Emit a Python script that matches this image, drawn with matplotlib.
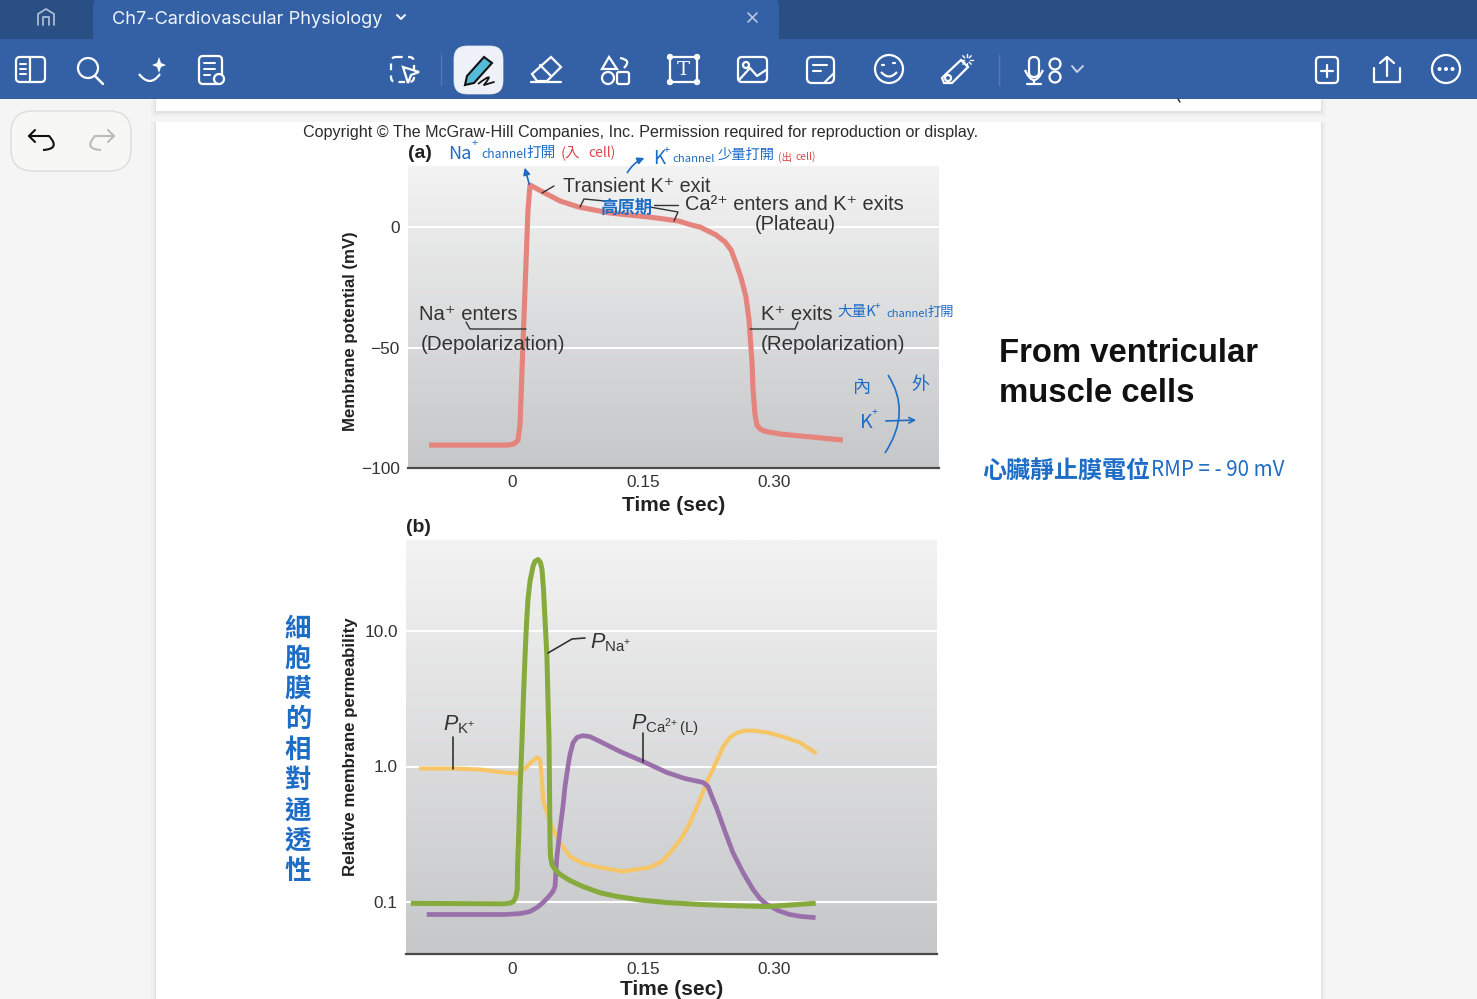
import matplotlib
matplotlib.use("Agg")
import numpy as np
import matplotlib.pyplot as plt
from matplotlib.patches import Rectangle, FancyBboxPatch, Circle, Polygon, PathPatch
from matplotlib.path import Path

plt.rcParams['font.family'] = ['Liberation Sans', 'DejaVu Sans']
plt.rcParams['mathtext.fontset'] = 'custom'
plt.rcParams['mathtext.rm'] = 'Liberation Sans'
plt.rcParams['mathtext.it'] = 'Liberation Sans:italic'
plt.rcParams['mathtext.bf'] = 'Liberation Sans:bold'

# action potential, time (s) / membrane potential (mV)
ap_time = [-0.095, -0.0046, 0.0023, 0.0069, 0.0092, 0.0115, 0.0149, 0.0183, 0.0206, 0.0355, 0.055,
           0.0763, 0.1123, 0.158, 0.1908, 0.2039, 0.2153, 0.2337, 0.244, 0.2509, 0.2566, 0.2623,
           0.268, 0.2715, 0.275, 0.2761, 0.2784, 0.2806, 0.2841, 0.2887, 0.2932, 0.307, 0.33, 0.379]
ap_mv = [-90.5, -90.5, -90, -88.4, -82, -59.3, -26, 7, 17.4, 14.5, 10.8,
         8.3, 5.8, 4.1, 2.5, 1.0, 0, -3.3, -6.2, -9.5, -15, -21,
         -29, -38.6, -56.4, -67.6, -78, -82.2, -83.8, -84.6, -85, -85.9, -86.7, -88.4]

# relative permeabilities
na_time = [-0.113, -0.008, -0.001, 0.0023, 0.0046, 0.006, 0.0063, 0.0075, 0.0092, 0.0115, 0.0132, 0.0149,
           0.0166, 0.0183, 0.0206, 0.024, 0.0263, 0.0298, 0.0326, 0.0344, 0.0361, 0.0378, 0.040, 0.0412,
           0.0424, 0.043, 0.0435, 0.0441, 0.0458, 0.0493, 0.055, 0.0664, 0.0813, 0.1008, 0.120, 0.1466,
           0.1775, 0.2153, 0.253, 0.292, 0.345]
na_perm = [0.0977, 0.097, 0.0985, 0.102, 0.11, 0.124, 0.174, 0.289, 0.677, 1.58, 3.4, 6.48,
           11.2, 17.1, 23.2, 29.9, 32.6, 33.7, 32, 28.4, 20.2, 12.2, 6.48, 3.12,
           1.58, 0.677, 0.289, 0.217, 0.189, 0.174, 0.16, 0.144, 0.13, 0.117, 0.11, 0.1035,
           0.099, 0.0959, 0.094, 0.0925, 0.0976]
ca_time = [-0.095, -0.008, 0.0092, 0.0206, 0.0286, 0.0355, 0.0424, 0.047, 0.0493, 0.0504, 0.0515, 0.055,
           0.0584, 0.0607, 0.0641, 0.0664, 0.07, 0.0745, 0.0813, 0.0893, 0.1008, 0.1237, 0.15, 0.1775,
           0.198, 0.219, 0.2245, 0.229, 0.235, 0.244, 0.253, 0.2646, 0.276, 0.284, 0.292, 0.3047, 0.318,
           0.33, 0.345]
ca_perm = [0.0809, 0.0809, 0.0821, 0.085, 0.091, 0.099, 0.11, 0.12, 0.13, 0.174, 0.217, 0.343,
           0.507, 0.712, 1.0, 1.226, 1.50, 1.64, 1.69, 1.66, 1.53, 1.29, 1.09, 0.903,
           0.815, 0.762, 0.712, 0.6, 0.481, 0.331, 0.232, 0.165, 0.124, 0.106, 0.0959, 0.0866, 0.0809,
           0.0784, 0.0769]
k_time = [-0.104, -0.0676, -0.0367, -0.01, 0.0057, 0.0115, 0.0172, 0.0229, 0.0286, 0.032, 0.0338, 0.0355,
          0.0412, 0.047, 0.055, 0.0664, 0.0813, 0.1008, 0.127, 0.158, 0.173, 0.184, 0.1947, 0.204,
          0.213, 0.223, 0.2325, 0.242, 0.2497, 0.258, 0.267, 0.276, 0.2932, 0.31, 0.33, 0.347]
k_perm = [0.966, 0.966, 0.95, 0.903, 0.888, 0.934, 1.0, 1.09, 1.165, 1.13, 0.873, 0.571,
          0.428, 0.343, 0.275, 0.217, 0.192, 0.180, 0.168, 0.180, 0.202, 0.244, 0.299, 0.386,
          0.524, 0.762, 1.03, 1.405, 1.64, 1.78, 1.84, 1.84, 1.78, 1.66, 1.5, 1.27]

time_ticks = [0, 0.15, 0.30]
time_labels = ['0', '0.15', '0.30']
mv_ticks = [0, -50, -100]
mv_labels = ['0', '\u221250', '\u2212100']
perm_ticks = [0.1, 1, 10]
perm_labels = ['0.1', '1.0', '10.0']

W, H = 1477, 999
BLUE = '#1d6cc6'
RED = '#d8484c'
GREY = '#333333'
BAR = '#3461a5'
TOP = '#2a4f84'
CJK = ['Noto Sans CJK TC', 'DejaVu Sans']

fig = plt.figure(figsize=(W / 100, H / 100), dpi=100, facecolor='#f5f5f5')

# page, toolbar and gradients live on a pixel-sized layer under the charts
bg = fig.add_axes([0, 0, 1, 1], zorder=0)
bg.axis('off')

grad = np.linspace(0, 1, 256).reshape(-1, 1)
shade = matplotlib.colors.LinearSegmentedColormap.from_list('shade', ['#f3f3f3', '#c6c7c9'])


def shadow(x0, y0, x1, y1):
    for i, a in zip([5, 3, 1], [0.015, 0.025, 0.04]):
        bg.add_patch(Rectangle((x0 - i, y0), x1 - x0 + 2 * i, y1 - y0 + i, fc='black', ec='none', alpha=a))


shadow(156, 90, 1321, 112)
bg.add_patch(Rectangle((156, 90), 1165, 21, fc='white', ec='none'))
shadow(156, 122, 1321, 1010)
bg.add_patch(Rectangle((156, 122), 1165, 890, fc='white', ec='none'))
bg.imshow(grad, extent=[408, 939, 468, 166], aspect='auto', cmap=shade, zorder=1)
bg.imshow(grad, extent=[406, 937, 954, 540], aspect='auto', cmap=shade, zorder=1)
bg.add_patch(Rectangle((0, 0), W, 40, fc=TOP, ec='none', zorder=2))
bg.add_patch(Rectangle((0, 39), W, 60, fc=BAR, ec='none', zorder=2))
bg.add_patch(FancyBboxPatch((100, 0), 672, 40, boxstyle='round,pad=0,rounding_size=8', fc=BAR, ec=BAR, lw=10, zorder=2))
bg.add_patch(Rectangle((93, 20), 686, 20, fc=BAR, ec='none', zorder=2))
bg.set_xlim(0, W)
bg.set_ylim(H, 0)

# panel (a)
ax1 = fig.add_axes([408 / W, 1 - 468 / H, 531 / W, 302 / H], zorder=1, facecolor='none')
ax1.plot(ap_time, ap_mv, color='#e5847c', lw=3.7, solid_joinstyle='round', solid_capstyle='butt', zorder=3)
ax1.set_xlim((408 - 512) / 873, (939 - 512) / 873)
ax1.set_ylim(-100, (227 - 166) / 2.41)
ax1.set_yticks(mv_ticks)
ax1.set_yticklabels(mv_labels)
ax1.set_ylabel('Membrane potential (mV)', fontweight='bold', fontsize=12.1, color='#222222')
ax1.yaxis.set_label_coords((358 - 408) / 531, (468 - 331) / 302)

# panel (b)
ax2 = fig.add_axes([406 / W, 1 - 954 / H, 531 / W, 414 / H], zorder=1, facecolor='none')
ax2.plot(k_time, k_perm, color='#f6c566', lw=3, solid_joinstyle='round', zorder=3)
ax2.plot(ca_time, ca_perm, color='#9a70ab', lw=3.4, solid_joinstyle='round', zorder=4)
ax2.plot(na_time, na_perm, color='#86ab3c', lw=3.6, solid_joinstyle='round', zorder=5)
ax2.set_yscale('log')
ax2.set_xlim((406 - 512) / 873, (937 - 512) / 873)
ax2.set_ylim(10 ** (-1 - 52 / 135.5), 10 ** (1 + 91 / 135.5))
ax2.set_yticks(perm_ticks)
ax2.set_yticklabels(perm_labels)
ax2.minorticks_off()
ax2.set_ylabel('Relative membrane permeability', fontweight='bold', fontsize=12.2, color='#222222')
ax2.yaxis.set_label_coords((358 - 406) / 531, (954 - 747) / 414)

for ax, pad, label_y in [(ax1, 5, (468 - 496) / 302), (ax2, 5.5, (954 - 980) / 414)]:
    ax.set_xticks(time_ticks)
    ax.set_xticklabels(time_labels)
    ax.tick_params(length=0, labelsize=12.4, labelcolor=GREY)
    ax.tick_params(axis='x', pad=pad)
    ax.tick_params(axis='y', pad=6)
    ax.grid(axis='y', color='white', lw=1.5, zorder=2)
    ax.set_axisbelow(True)
    for s in ['top', 'left', 'right']:
        ax.spines[s].set_visible(False)
    ax.spines['bottom'].set_color('#4a4a4a')
    ax.spines['bottom'].set_linewidth(1.6)
    ax.set_xlabel('Time (sec)', fontweight='bold', fontsize=15, color='#222222')
    ax.xaxis.set_label_coords(0.5, label_y)

# top layer: labels, leaders, pen notes, toolbar icons
ov = fig.add_axes([0, 0, 1, 1], zorder=2, facecolor='none')
ov.axis('off')
ov.set_xlim(0, W)
ov.set_ylim(H, 0)


def txt(x, y, s, size=11, color=GREY, ha='left', va='center', **kw):
    return ov.text(x, y, s, fontsize=size, color=color, ha=ha, va=va, **kw)


def ln(xs, ys, color=GREY, lw=1.0, **kw):
    ov.plot(xs, ys, color=color, lw=lw, solid_capstyle='round', solid_joinstyle='round', **kw)


def box(x, y, w, h, r=4, fc='none', ec='white', lw=1.6, **kw):
    ov.add_patch(FancyBboxPatch((x, y), w, h, boxstyle=f'round,pad=0,rounding_size={r}', fc=fc, ec=ec, lw=lw, **kw))


def circ(x, y, r, fc='none', ec='white', lw=1.6):
    ov.add_patch(Circle((x, y), r, fc=fc, ec=ec, lw=lw))


def curve(p0, p1, p2, color='white', lw=1.6):
    ov.add_patch(PathPatch(Path([p0, p1, p2], [Path.MOVETO, Path.CURVE3, Path.CURVE3]), fc='none', ec=color, lw=lw))


txt(303, 132, 'Copyright \u00a9 The McGraw-Hill Companies, Inc. Permission required for reproduction or display.', size=11.6, color='#2a2a2a')
txt(408, 153, '(a)', size=14, weight='bold', color='#222222')
txt(406, 528, '(b)', size=14, weight='bold', color='#222222')

txt(563, 186, 'Transient K\u207a exit', size=14.2)
txt(685, 205, 'Ca\u00b2\u207a enters and K\u207a exits', size=14.4)
txt(795, 225, '(Plateau)', size=14.4, ha='center')
txt(419, 314, 'Na\u207a enters', size=14.6)
txt(421, 345, '(Depolarization)', size=14.8)
txt(761, 314, 'K\u207a exits', size=14.6)
txt(761, 345, '(Repolarization)', size=14.8)
ln([542, 554], [193, 186])
ln([580, 584, 605], [207, 199, 201])
ln([650, 678, 674], [207, 212, 221])
ln([654, 678], [205, 205])
ln([466, 470, 526], [322, 329, 329])
ln([750, 795, 798], [329, 329, 322])

txt(443, 725, r'$\mathit{P}_{\mathrm{K}^{+}}$', size=15.5)
txt(590, 643, r'$\mathit{P}_{\mathrm{Na}^{+}}$', size=15.5)
txt(631, 725, r'$\mathit{P}_{\mathrm{Ca}^{2\!+}\mathrm{(L)}}$', size=15.5)
ln([453, 453], [737, 769], lw=1.2)
ln([548, 572, 585], [653, 639, 638], lw=1.2)
ln([643, 643], [733, 762], lw=1.2)

txt(999, 354, 'From ventricular', size=23.7, weight='bold', color='#111111')
txt(999, 394, 'muscle cells', size=23.7, weight='bold', color='#111111')

# pen notes
txt(448, 154, 'Na', size=13, color=BLUE, family=CJK)
txt(472, 143, '+', size=8, color=BLUE, family=CJK)
txt(481, 155, 'channel', size=8.8, color=BLUE, family=CJK)
txt(526, 153, '打開', size=10.5, color=BLUE, family=CJK)
txt(561, 153, '(入', size=10.5, color=RED, family=CJK)
txt(588, 153, 'cell)', size=10, color=RED, family=CJK)
txt(653, 158, 'K', size=13.5, color=BLUE, family=CJK)
txt(664, 150, '+', size=8, color=BLUE, family=CJK)
txt(672, 159, 'channel', size=8.2, color=BLUE, family=CJK)
txt(718, 155, '少量打開', size=10.3, color=BLUE, family=CJK)
txt(778, 157, '(出', size=7.5, color=RED, family=CJK)
txt(796, 157, 'cell)', size=7.5, color=RED, family=CJK)
txt(626, 208, '高原期', size=12.5, color=BLUE, ha='center', weight='bold', family=CJK)
txt(837, 312, '大量K', size=10.5, color=BLUE, family=CJK)
txt(875, 306, '+', size=7, color=BLUE, family=CJK)
txt(886, 314, 'channel', size=8, color=BLUE, family=CJK)
txt(928, 312, '打開', size=9.5, color=BLUE, family=CJK)
txt(862, 388, '內', size=13, color=BLUE, ha='center', family=CJK)
txt(920, 385, '外', size=13, color=BLUE, ha='center', family=CJK)
txt(866, 423, 'K', size=14, color=BLUE, ha='center', family=CJK)
txt(875, 412, '+', size=8, color=BLUE, ha='center', family=CJK)
txt(982, 471, '心臟靜止膜電位', size=17.3, color=BLUE, weight='bold', family=CJK)
txt(1151, 470, 'RMP = - 90 mV', size=14.8, color=BLUE, family=CJK)
for i, ch in enumerate('細胞膜的相對通透性'):
    txt(298, 629 + i * 30.3, ch, size=19, color=BLUE, ha='center', weight='bold', family=CJK)

curve((888, 375), (912, 412), (885, 453), color=BLUE, lw=1.2)
ov.annotate('', xy=(919, 420), xytext=(883, 421), arrowprops=dict(arrowstyle='->', color=BLUE, lw=1.2))
ov.annotate('', xy=(524, 165), xytext=(530, 187), arrowprops=dict(arrowstyle='-|>', color=BLUE, lw=1.2))
ov.annotate('', xy=(647, 157), xytext=(626, 175),
            arrowprops=dict(arrowstyle='-|>', color=BLUE, lw=1.2, connectionstyle='arc3,rad=-0.2'))
ln([1178, 1180], [99, 102], color='#222222', lw=1)

# tab strip
ov.add_patch(Rectangle((0, 0), 93, 39, fc=TOP, ec='none'))
ln([38, 38, 46, 54, 54], [25, 14, 9, 14, 25], color='#a9bcd8', lw=1.3)
ln([43, 43, 49, 49], [25, 17, 17, 25], color='#a9bcd8', lw=1.3)
txt(112, 19, 'Ch7-Cardiovascular Physiology', size=13.1, color='#f1f4fa', family=['Inter', 'DejaVu Sans'])
ln([397, 401, 405], [15, 19, 15], color='white', lw=1.4)
ln([748, 757], [13, 22], color='#b9c8e0', lw=1.2)
ln([757, 748], [13, 22], color='#b9c8e0', lw=1.2)

# toolbar icons, left to right
box(16, 57, 29, 25, r=4)
ln([30, 30], [57, 82], color='white', lw=1.6)
for y in [64, 69, 74]:
    ln([20, 26], [y, y], color='white', lw=1.4)
circ(88, 68, 10)
ln([95, 103], [76, 84], color='white', lw=1.8)
curve((139, 74), (150, 88), (160, 74))
ov.add_patch(Polygon([(159, 57), (161, 63), (166, 65), (161, 67), (159, 73), (157, 67), (152, 65), (157, 63)], fc='white', ec='none'))
box(199, 56, 23, 28, r=4)
for y in [63, 69, 75]:
    ln([204, 215 if y < 75 else 210], [y, y], color='white', lw=1.4)
circ(219, 79, 5, fc=BAR)
box(391, 57, 23, 25, r=5, ls=(0, (3, 2.4)))
ov.add_patch(Polygon([(403, 67), (419, 72), (411, 75), (408, 83)], fc=BAR, ec='white', lw=1.6))
ln([441, 441], [55, 85], color='#5279b5', lw=1)
box(454, 46, 49, 48, r=13, fc='#eef1f7', ec='#eef1f7', lw=0.5)
ov.add_patch(Polygon([(484, 57), (492, 63), (474, 83), (465, 85), (467, 76)], fc='#55bcd8', ec='#111111', lw=1.5))
curve((478, 84), (496, 70), (484, 85), color='#111111', lw=1.3)
ln([484, 494], [85, 82], color='#111111', lw=1.3)
ov.add_patch(Polygon([(551, 57), (561, 67), (547, 81), (537, 81), (532, 74)], fc='none', ec='white', lw=1.6))
ln([540, 551], [65, 76], color='white', lw=1.6)
ln([531, 561], [82, 82], color='white', lw=1.6)
ov.add_patch(Polygon([(609, 57), (617, 69), (602, 69)], fc='none', ec='white', lw=1.6))
curve((620, 58), (632, 60), (624, 68))
circ(608, 78, 6)
box(617, 72, 12, 12, r=2)
ln([670, 697, 697, 670, 670], [57, 57, 82, 82, 57], color='white', lw=1.6)
for cx, cy in [(670, 57), (697, 57), (670, 82), (697, 82)]:
    circ(cx, cy, 2.2, fc=BAR, lw=1.4)
txt(683.5, 70, 'T', size=14, color='white', ha='center', family=['DejaVu Serif'])
box(738, 57, 29, 25, r=4)
circ(746, 65, 3)
ln([739, 750, 757, 766], [80, 68, 76, 70], color='white', lw=1.6)
box(807, 57, 27, 26, r=5)
ln([813, 827], [65, 65], color='white', lw=1.5)
ln([813, 821], [71, 71], color='white', lw=1.5)
ln([824, 834], [83, 73], color='white', lw=1.5)
circ(889, 69, 14)
curve((881, 72), (889, 81), (897, 72))
ln([882, 884], [65, 65], color='white', lw=1.6)
ln([893, 895], [63, 63], color='white', lw=1.6)
ov.add_patch(Polygon([(946, 74), (961, 60), (968, 67), (952, 83), (944, 83), (942, 78)], fc='none', ec='white', lw=1.6))
circ(948, 78, 3)
for a in np.arange(0, 360, 45):
    ln([967 + 3 * np.cos(np.radians(a)), 967 + 6 * np.cos(np.radians(a))],
       [60 + 3 * np.sin(np.radians(a)), 60 + 6 * np.sin(np.radians(a))], color='white', lw=1)
ln([999, 999], [55, 85], color='#5279b5', lw=1)
box(1029, 57, 10, 20, r=5)
curve((1025, 70), (1034, 90), (1043, 70))
ln([1034, 1034], [81, 84], color='white', lw=1.6)
ln([1027, 1041], [84, 84], color='white', lw=1.6)
circ(1055, 64, 5.5)
circ(1055, 77, 5.5)
ln([1072, 1077, 1083], [66, 72, 66], color='#c6d3e8', lw=1.4)
box(1316, 57, 22, 26, r=4)
ln([1327, 1327], [65, 77], color='white', lw=1.6)
ln([1321, 1333], [71, 71], color='white', lw=1.6)
ln([1387, 1387], [57, 76], color='white', lw=1.6)
ln([1380, 1387, 1394], [63, 57, 63], color='white', lw=1.6)
ln([1374, 1374, 1400, 1400], [68, 82, 82, 68], color='white', lw=1.6)
circ(1446, 69, 14)
for x in [1439.5, 1446, 1452.5]:
    circ(x, 69, 2, fc='white', lw=0)

# undo / redo pill
box(11, 111, 120, 60, r=22, fc='#f7f7f5', ec='#dcdcdc', lw=1)
ln([29, 49], [136, 136], color='#111111', lw=1.5)
ln([35, 29, 35], [130, 136, 142], color='#111111', lw=1.5)
curve((49, 136), (61, 149), (43, 150), color='#111111', lw=1.5)
ln([95, 114], [136, 136], color='#bbbbbb', lw=1.5)
ln([108, 114, 108], [130, 136, 142], color='#bbbbbb', lw=1.5)
curve((95, 136), (83, 149), (101, 150), color='#bbbbbb', lw=1.5)

fig.savefig('out.png', dpi=100, facecolor=fig.get_facecolor())
